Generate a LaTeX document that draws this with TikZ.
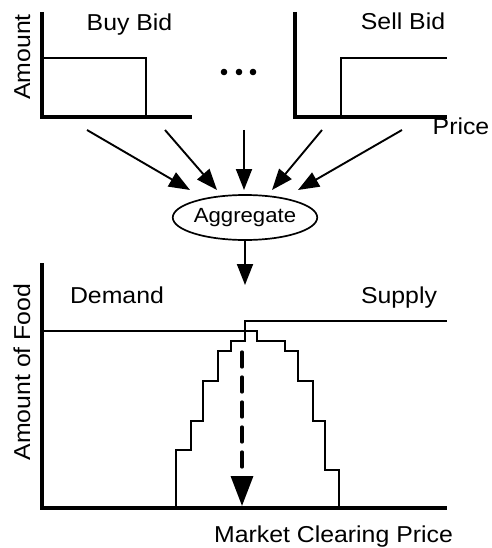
\documentclass[tikz,border=0pt]{standalone}
\usepackage{fontspec}
\setmainfont[FakeStretch=1.08]{Liberation Sans}
\usetikzlibrary{arrows.meta, positioning, shapes.geometric}

\begin{document}
\begin{tikzpicture}[x=1pt,y=-1pt,
  >={Triangle[length=21pt,width=16pt]},
  axis/.style={line width=3.8pt},
  curve/.style={line width=1.7pt},
  feed/.style={line width=1.9pt,->},
  lbl/.style={font=\fontsize{23}{26}\selectfont,inner sep=0pt}]

\useasboundingbox (0,0) rectangle (491,548);

% Buy bid
\draw[axis] (42,12) -- (42,117) -- (192,117);
\draw[curve] (42,58) -- (146,58) -- (146,117);
\node[lbl,anchor=base] (buy) at (129.5,31) {Buy Bid};
\node[lbl,anchor=base,rotate=90] (amount) at (30,57) {Amount};

% Dots between the bids
\foreach \x in {224,239,253} \fill (\x,72) circle (3.3pt);

% Sell bid
\draw[axis] (295,12) -- (295,117) -- (447,117);
\draw[curve] (341,117) -- (341,58) -- (447,58);
\node[lbl,anchor=base] (sell) at (403,30) {Sell Bid};
\node[lbl,anchor=base] (price) at (461,135) {Price};

% Bids into the aggregate
\node[draw,ellipse,curve,minimum width=121pt,minimum height=45pt,inner sep=0pt,
  font=\fontsize{20.5}{24}\selectfont] (agg) at (245,217.5) {Aggregate};
\coordinate (bid1) at (87,130);
\coordinate (bid2) at (165,130);
\coordinate (bid3) at (244,130);
\coordinate (bid4) at (322,130);
\coordinate (bid5) at (402,130);
\coordinate (in1) at (190,190);
\coordinate (in2) at (217,190);
\coordinate (in3) at (244,190);
\coordinate (in4) at (272,190);
\coordinate (in5) at (298,190);
\draw[feed] (bid1) -- (in1);
\draw[feed] (bid2) -- (in2);
\draw[feed] (bid3) -- (in3);
\draw[feed] (bid4) -- (in4);
\draw[feed] (bid5) -- (in5);
\coordinate (market) at (245,285);
\draw[feed] (agg.south) -- (market);

% Market
\draw[axis] (42,263) -- (42,508) -- (447,508);
\node[lbl,anchor=base] (demand) at (117,303) {Demand};
\node[lbl,anchor=base] (supply) at (399,303) {Supply};
\node[lbl,anchor=base] (clearing) at (333.5,542) {Market Clearing Price};
\node[lbl,anchor=base,rotate=90] (food) at (30,372) {Amount of Food};
% Demand curve
\draw[curve] (42,331) -- (257,331) -- (257,341) -- (285,341) -- (285,351)
  -- (298,351) -- (298,381) -- (313,381) -- (313,421) -- (325,421)
  -- (325,470) -- (339,470) -- (339,508);
% Supply curve
\draw[curve] (176,508) -- (176,450) -- (191,450) -- (191,421) -- (203,421)
  -- (203,381) -- (218,381) -- (218,351) -- (231,351) -- (231,341)
  -- (245,341) -- (245,321) -- (447,321);
% Clearing price marker
\coordinate (cross) at (242,352);
\coordinate (cleared) at (242,506);
\draw[line width=3.3pt,line cap=round,dash pattern=on 15pt off 10pt,
  -{Triangle[length=30pt,width=22pt]}] (cross) -- (cleared);

\end{tikzpicture}
\end{document}
